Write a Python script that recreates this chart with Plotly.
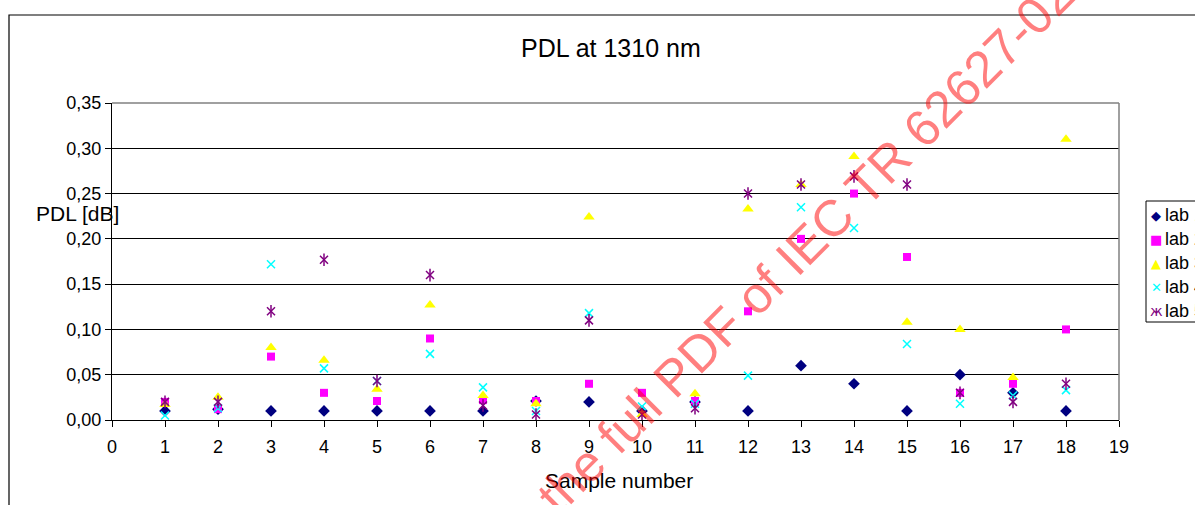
import plotly.graph_objects as go

# Sample numbers and PDL readings (dB) per laboratory
samples = list(range(1, 19))
lab1 = [0.010, 0.012, 0.010, 0.010, 0.010, 0.010, 0.010, 0.021, 0.020,
        0.010, 0.020, 0.010, 0.060, 0.040, 0.010, 0.050, 0.030, 0.010]
lab2 = [0.020, 0.012, 0.070, 0.030, 0.021, 0.090, 0.022, 0.021, 0.040,
        0.030, 0.021, 0.120, 0.200, 0.250, 0.180, 0.030, 0.040, 0.100]
lab3 = [0.017, 0.025, 0.080, 0.066, 0.034, 0.127, 0.027, 0.018, 0.224,
        0.006, 0.029, 0.233, 0.260, 0.291, 0.108, 0.100, 0.047, 0.310]
lab4 = [0.005, 0.013, 0.172, 0.057, 0.043, 0.073, 0.036, 0.010, 0.118,
        0.015, 0.018, 0.049, 0.235, 0.212, 0.084, 0.018, 0.027, 0.033]
lab5 = [0.020, 0.020, 0.120, 0.177, 0.043, 0.160, 0.016, 0.006, 0.110,
        0.006, 0.013, 0.250, 0.260, 0.269, 0.260, 0.030, 0.020, 0.040]
names = ["lab 1", "lab 2", "lab 3", "lab 4", "lab 5"]
y_ticks = [0.00, 0.05, 0.10, 0.15, 0.20, 0.25, 0.30, 0.35]
x_ticks = list(range(0, 20))

FONT = "Liberation Sans, Arial, sans-serif"
W, H = 1195, 505
ML, MR, MT, MB = 112, 76, 103, 85
PW, PH = W - ML - MR, H - MT - MB


def px(x):
    return (x - ML) / PW


def py(y):
    return (H - MB - y) / PH


fig = go.Figure()

fig.add_trace(go.Scatter(x=samples, y=lab1, mode="markers", name=names[0],
                         marker=dict(symbol="diamond", size=9, color="#000080")))
fig.add_trace(go.Scatter(x=samples, y=lab2, mode="markers", name=names[1],
                         marker=dict(symbol="square", size=8, color="#FF00FF")))
fig.add_trace(go.Scatter(x=samples, y=lab3, mode="markers", name=names[2],
                         marker=dict(symbol="triangle-up", size=10, color="#FFFF00")))
fig.add_trace(go.Scatter(x=samples, y=lab4, mode="markers", name=names[3],
                         marker=dict(symbol="x-thin", size=8, color="#00FFFF",
                                     line=dict(width=1.5, color="#00FFFF"))))
# star marker = diagonal cross plus a vertical stroke
fig.add_trace(go.Scatter(x=samples, y=lab5, mode="markers", name=names[4],
                         marker=dict(symbol="x-thin", size=8, color="#800080",
                                     line=dict(width=1.5, color="#800080"))))
fig.add_trace(go.Scatter(x=samples, y=lab5, mode="markers", showlegend=False,
                         marker=dict(symbol="line-ns", size=9, color="#800080",
                                     line=dict(width=1.5, color="#800080"))))

annotations = [
    dict(text="PDL at 1310 nm", x=px(611), y=py(48), xref="paper", yref="paper",
         showarrow=False, xanchor="center", yanchor="middle",
         font=dict(family=FONT, size=25, color="black")),
    dict(text="PDL [dB]", x=px(77), y=py(213), xref="paper", yref="paper",
         showarrow=False, xanchor="center", yanchor="middle",
         font=dict(family=FONT, size=21, color="black")),
    dict(text="Sample number", x=px(619), y=py(480), xref="paper", yref="paper",
         showarrow=False, xanchor="center", yanchor="middle",
         font=dict(family=FONT, size=21, color="black")),
]

# legend box drawn by hand so entries sit tight against their symbols
legend_syms = ["◆", "■", "▲", "✕", "ж"]
legend_cols = ["#000080", "#FF00FF", "#FFFF00", "#00FFFF", "#800080"]
legend_sizes = [13, 13, 13, 13, 14]
for i, (nm, sym, col, sz) in enumerate(zip(names, legend_syms, legend_cols, legend_sizes)):
    yc = 215 + 24 * i
    annotations.append(dict(text=sym, x=px(1156), y=py(yc), xref="paper", yref="paper",
                            showarrow=False, xanchor="center", yanchor="middle",
                            font=dict(family="DejaVu Sans", size=sz, color=col)))
    annotations.append(dict(text=nm, x=px(1163), y=py(yc), xref="paper", yref="paper",
                            showarrow=False, xanchor="left", yanchor="middle",
                            font=dict(family=FONT, size=18, color="black")))

annotations.append(dict(text="Click to view the full PDF of IEC TR 62627-02:2010",
                        x=px(745), y=py(305), xref="paper", yref="paper",
                        showarrow=False, xanchor="center", yanchor="middle",
                        textangle=-45,
                        font=dict(family=FONT, size=51, color="rgba(255,0,0,0.5)")))

shapes = [
    # outer chart frame
    dict(type="rect", xref="paper", yref="paper", x0=px(9), x1=px(1300),
         y0=py(600), y1=py(15), line=dict(color="black", width=1.2),
         fillcolor="rgba(0,0,0,0)", layer="below"),
    # plot-area frame: grey top and right edges
    dict(type="line", xref="paper", yref="paper", x0=0, x1=1, y0=1, y1=1,
         line=dict(color="#808080", width=1.5)),
    dict(type="line", xref="paper", yref="paper", x0=1, x1=1, y0=0, y1=1,
         line=dict(color="#808080", width=1.5)),
    # legend frame
    dict(type="rect", xref="paper", yref="paper", x0=px(1146), x1=px(1260),
         y0=py(322), y1=py(201), line=dict(color="black", width=1),
         fillcolor="rgba(0,0,0,0)"),
]

fig.update_layout(
    width=W, height=H,
    margin=dict(l=ML, r=MR, t=MT, b=MB, pad=0),
    paper_bgcolor="white", plot_bgcolor="white",
    showlegend=False,
    separators=", ",
    font=dict(family=FONT, size=18, color="black"),
    annotations=annotations,
    shapes=shapes,
)

fig.update_xaxes(
    range=[0, 19], tickmode="array", tickvals=x_ticks,
    ticks="outside", ticklen=6, tickcolor="black", tickwidth=1,
    ticklabelstandoff=4,
    showline=True, linecolor="black", linewidth=1.2,
    showgrid=False, zeroline=False, automargin=False,
    tickfont=dict(family=FONT, size=18, color="black"),
)
fig.update_yaxes(
    range=[0, 0.35], tickmode="array", tickvals=y_ticks, tickformat=".2f",
    ticks="outside", ticklen=6, tickcolor="black", tickwidth=1,
    showline=True, linecolor="black", linewidth=1.2,
    showgrid=True, gridcolor="black", gridwidth=1,
    zeroline=False, automargin=False,
    tickfont=dict(family=FONT, size=18, color="black"),
)

fig.write_html("out.html")
